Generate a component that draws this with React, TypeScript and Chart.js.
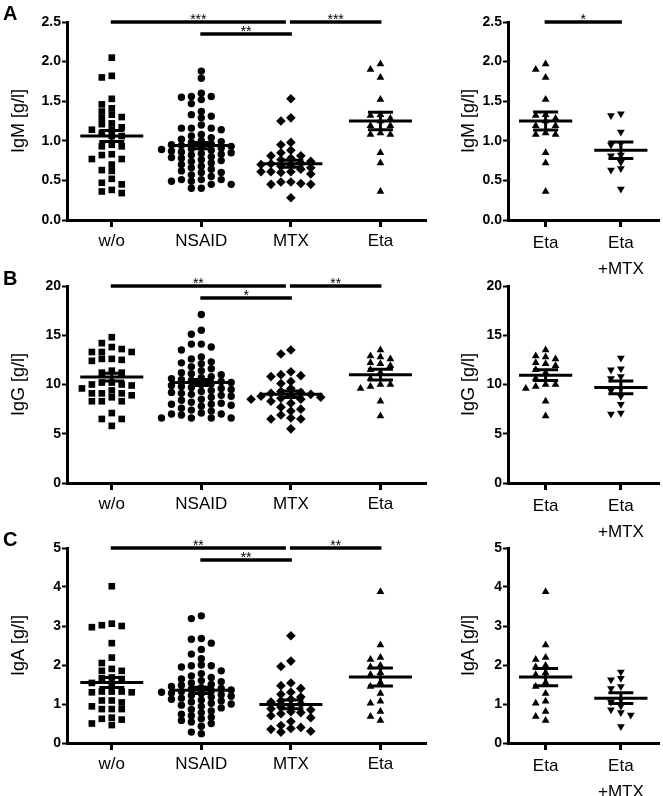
import React, { useEffect, useRef } from 'react';
import { Chart, registerables } from 'chart.js';

Chart.register(...registerables);

const FONT = '"Liberation Sans", Arial, Helvetica, sans-serif';

// ---------- categories ----------
const leftCategories = ['w/o', 'NSAID', 'MTX', 'Eta'];
const rightCategories = ['Eta', 'Eta\n+MTX'];

// ---------- IgM [g/l] ----------
const igmWo = [2.05, 1.82, 1.8, 1.53, 1.46, 1.41, 1.37, 1.33, 1.3, 1.29, 1.22, 1.21, 1.17, 1.14, 1.14, 1.09, 1.06, 1.06, 0.95, 0.93, 0.93, 0.83, 0.82, 0.77, 0.77, 0.7, 0.63, 0.62, 0.52, 0.47, 0.45, 0.38, 0.36, 0.34];
const igmNsaid = [1.88, 1.79, 1.6, 1.56, 1.56, 1.55, 1.52, 1.47, 1.37, 1.33, 1.31, 1.29, 1.2, 1.16, 1.16, 1.16, 1.14, 1.08, 1.06, 1.04, 1.02, 1.0, 0.99, 0.98, 0.96, 0.95, 0.94, 0.93, 0.92, 0.91, 0.9, 0.89, 0.88, 0.87, 0.86, 0.85, 0.84, 0.83, 0.82, 0.8, 0.79, 0.78, 0.76, 0.75, 0.74, 0.72, 0.7, 0.68, 0.66, 0.64, 0.62, 0.6, 0.6, 0.57, 0.55, 0.51, 0.51, 0.51, 0.49, 0.49, 0.45, 0.45, 0.4, 0.4];
const igmMtx = [1.53, 1.29, 1.25, 0.98, 0.95, 0.88, 0.85, 0.81, 0.81, 0.78, 0.76, 0.74, 0.72, 0.71, 0.7, 0.7, 0.68, 0.66, 0.64, 0.61, 0.61, 0.61, 0.6, 0.58, 0.48, 0.48, 0.46, 0.45, 0.45, 0.28];
const igmEta = [1.97, 1.9, 1.8, 1.52, 1.33, 1.32, 1.28, 1.25, 1.19, 1.19, 1.1, 1.08, 1.08, 0.85, 0.72, 0.36];
const igmEtaMtx = [1.34, 1.32, 1.11, 0.97, 0.95, 0.82, 0.81, 0.73, 0.65, 0.63, 0.39];
const igmMeans = [1.06, 0.94, 0.71, 1.25];
const igmSems = [0.07, 0.04, 0.045, 0.11];
const igmRightMeans = [1.25, 0.88];
const igmRightSems = [0.115, 0.105];
const igmTicks = [0, 0.5, 1.0, 1.5, 2.0, 2.5];

// ---------- IgG [g/l] ----------
const iggWo = [14.8, 14.2, 13.8, 13.6, 13.3, 13.3, 13.3, 12.6, 12.6, 12.5, 12.4, 11.4, 11.2, 11.2, 10.2, 10.2, 10.0, 10.0, 9.9, 9.6, 9.4, 9.1, 9.1, 9.1, 8.9, 8.7, 8.3, 8.3, 8.3, 7.1, 6.5, 6.5, 5.8];
const iggNsaid = [17.1, 15.5, 15.1, 14.1, 14.1, 13.8, 13.5, 12.8, 12.6, 12.3, 12.2, 12.1, 11.8, 11.6, 11.4, 11.2, 11.1, 11.0, 10.8, 10.7, 10.6, 10.5, 10.4, 10.3, 10.2, 10.1, 10.0, 9.9, 9.8, 9.7, 9.6, 9.5, 9.4, 9.3, 9.2, 9.1, 9.0, 8.9, 8.8, 8.7, 8.5, 8.4, 8.2, 8.1, 8.0, 8.0, 7.9, 7.8, 7.6, 7.4, 7.3, 7.1, 7.0, 7.0, 6.9, 6.6, 6.6, 6.6, 6.6];
const iggMtx = [13.5, 13.1, 11.3, 11.0, 10.9, 10.8, 10.3, 10.1, 9.6, 9.3, 9.2, 9.1, 9.0, 8.9, 8.8, 8.7, 8.6, 8.5, 8.5, 8.3, 8.1, 7.7, 7.5, 7.3, 6.9, 6.6, 6.5, 6.5, 5.5];
const iggEta = [13.5, 12.9, 12.8, 12.6, 12.2, 12.1, 11.9, 11.5, 11.2, 10.6, 10.0, 10.0, 9.8, 9.6, 8.3, 6.8];
const iggEtaMtx = [12.7, 11.6, 11.5, 10.8, 10.6, 9.6, 9.4, 8.8, 8.0, 7.1, 7.0];
const iggMeans = [10.75, 10.2, 9.0, 11.0];
const iggSems = [0.4, 0.3, 0.33, 0.55];
const iggRightMeans = [10.95, 9.7];
const iggRightSems = [0.55, 0.65];
const iggTicks = [0, 5, 10, 15, 20];

// ---------- IgA [g/l] ----------
const igaWo = [4.02, 3.06, 3.02, 3.0, 2.97, 2.56, 2.19, 2.05, 1.9, 1.85, 1.85, 1.68, 1.66, 1.64, 1.54, 1.5, 1.32, 1.32, 1.32, 1.3, 1.3, 1.09, 1.09, 1.04, 0.94, 0.87, 0.87, 0.87, 0.65, 0.62, 0.6, 0.5, 0.46];
const igaNsaid = [3.26, 3.19, 2.68, 2.66, 2.56, 2.4, 2.28, 2.16, 2.0, 1.98, 1.98, 1.95, 1.85, 1.78, 1.72, 1.68, 1.64, 1.6, 1.57, 1.54, 1.5, 1.48, 1.45, 1.42, 1.4, 1.38, 1.36, 1.34, 1.32, 1.3, 1.28, 1.26, 1.24, 1.22, 1.2, 1.18, 1.15, 1.12, 1.1, 1.08, 1.05, 1.02, 1.0, 0.97, 0.94, 0.9, 0.86, 0.82, 0.78, 0.74, 0.7, 0.66, 0.62, 0.58, 0.54, 0.5, 0.43, 0.28, 0.24];
const igaMtx = [2.75, 2.1, 1.96, 1.54, 1.47, 1.4, 1.3, 1.25, 1.18, 1.12, 1.08, 1.05, 1.0, 0.96, 0.92, 0.88, 0.85, 0.8, 0.78, 0.75, 0.7, 0.65, 0.55, 0.45, 0.4, 0.37, 0.35, 0.3, 0.28];
const igaEta = [3.88, 2.51, 2.19, 2.14, 1.99, 1.95, 1.8, 1.75, 1.55, 1.45, 1.27, 1.07, 1.02, 0.81, 0.68, 0.58];
const igaEtaMtx = [1.82, 1.66, 1.62, 1.45, 1.4, 1.12, 1.05, 0.95, 0.85, 0.78, 0.72, 0.42];
const igaMeans = [1.55, 1.35, 0.99, 1.69];
const igaSems = [0.13, 0.08, 0.11, 0.23];
const igaRightMeans = [1.69, 1.15];
const igaRightSems = [0.22, 0.14];
const igaTicks = [0, 1, 2, 3, 4, 5];

// ---------- significance bars: [from, to, label, level] ----------
type Sig = [number, number, string, number];
const sigIgmLeft: Sig[] = [[0, 2, '***', 0], [2, 3, '***', 0], [1, 2, '**', 1]];
const sigIgmRight: Sig[] = [[0, 1, '*', 0]];
const sigIggLeft: Sig[] = [[0, 2, '**', 0], [2, 3, '**', 0], [1, 2, '*', 1]];
const sigIgaLeft: Sig[] = [[0, 2, '**', 0], [2, 3, '**', 0], [1, 2, '**', 1]];

// ---------- marker shapes ----------
type Shape = { style: string; r: number; rot: number };
const SQUARE: Shape = { style: 'rect', r: 4.7, rot: 0 };
const CIRCLE: Shape = { style: 'circle', r: 3.7, rot: 0 };
const DIAMOND: Shape = { style: 'rectRot', r: 4.8, rot: 0 };
const TRI_UP: Shape = { style: 'triangle', r: 4.5, rot: 0 };
const TRI_DOWN: Shape = { style: 'triangle', r: 4.5, rot: 180 };
const leftShapes = [SQUARE, CIRCLE, DIAMOND, TRI_UP];
const rightShapes = [TRI_UP, TRI_DOWN];

// beeswarm layout (pixel offsets), computed from values
function swarm(values: number[], pxPerY: number, step: number, minD: number): number[] {
  const order = values.map((v, i) => ({ v, i })).sort((a, b) => b.v - a.v);
  const placed: { dx: number; py: number }[] = [];
  const out: number[] = new Array(values.length).fill(0);
  for (const { v, i } of order) {
    const py = v * pxPerY;
    let dx = 0;
    for (let n = 0; n < 400; n++) {
      const cand = n === 0 ? 0 : (n % 2 === 1 ? -1 : 1) * Math.ceil(n / 2) * step;
      const hit = placed.some((p) => Math.abs(p.dx - cand) < minD && Math.abs(p.py - py) < minD);
      if (!hit) {
        dx = cand;
        break;
      }
    }
    placed.push({ dx, py });
    out[i] = dx;
  }
  return out;
}

type PanelProps = {
  left: number;
  top: number;
  width: number;
  height: number;
  extra: number;
  chartTop: number;
  chartBottom: number;
  axisWidth: number;
  padRight: number;
  categories: string[];
  groups: number[][];
  shapes: Shape[];
  means: number[];
  sems: number[];
  yTicks: number[];
  decimals: number;
  yTitle: string;
  titlePad: number;
  xLineHeight: number;
  sig: Sig[];
};

function Panel(p: PanelProps) {
  const ref = useRef<HTMLCanvasElement>(null);
  const canvasH = p.height + p.extra;
  useEffect(() => {
    const canvas = ref.current;
    if (!canvas) return;
    const n = p.categories.length;
    const yMax = p.yTicks[p.yTicks.length - 1];
    const plotW = p.width - p.axisWidth - p.padRight;
    const plotH = p.chartBottom - p.chartTop;
    const pxX = plotW / n;
    const pxY = plotH / yMax;

    const datasets = p.groups.map((vals, ci) => {
      const offs = swarm(vals, pxY, 5, 6);
      const sh = p.shapes[ci];
      return {
        label: p.categories[ci],
        data: vals.map((v, k) => ({ x: ci + offs[k] / pxX, y: v })),
        pointStyle: sh.style,
        pointRadius: sh.r,
        pointHoverRadius: sh.r,
        rotation: sh.rot,
        backgroundColor: '#000',
        borderColor: '#000',
        borderWidth: 0,
        showLine: false,
        clip: false,
      };
    });

    const overlay = {
      id: 'overlay',
      afterDatasetsDraw(chart: any) {
        const { ctx, scales } = chart;
        const xs = scales.x;
        const ys = scales.y;
        ctx.save();
        ctx.strokeStyle = '#000';
        ctx.fillStyle = '#000';
        ctx.lineCap = 'butt';
        // mean +/- SEM
        const meanHalf = 0.35 * pxX;
        const semHalf = 12.5;
        p.means.forEach((m, ci) => {
          const cx = xs.getPixelForValue(ci);
          const ym = ys.getPixelForValue(m);
          const yh = ys.getPixelForValue(m + p.sems[ci]);
          const yl = ys.getPixelForValue(m - p.sems[ci]);
          ctx.lineWidth = 3;
          ctx.beginPath();
          ctx.moveTo(cx - meanHalf, ym);
          ctx.lineTo(cx + meanHalf, ym);
          ctx.moveTo(cx - semHalf, yh);
          ctx.lineTo(cx + semHalf, yh);
          ctx.moveTo(cx - semHalf, yl);
          ctx.lineTo(cx + semHalf, yl);
          ctx.moveTo(cx, yh);
          ctx.lineTo(cx, yl);
          ctx.stroke();
        });
        // significance bars
        ctx.font = '14px ' + FONT;
        ctx.textAlign = 'center';
        ctx.textBaseline = 'alphabetic';
        p.sig.forEach(([from, to, label, level]) => {
          const y = ys.top + level * 12;
          const x1 = xs.getPixelForValue(from) - 1;
          let x2 = xs.getPixelForValue(to) + 1;
          const continues = p.sig.some((s) => s[3] === level && s[0] === to);
          if (continues) x2 -= 6;
          ctx.lineWidth = 3.5;
          ctx.beginPath();
          ctx.moveTo(x1, y);
          ctx.lineTo(x2, y);
          ctx.stroke();
          ctx.fillText(label, (x1 + x2) / 2, y + 2);
        });
        ctx.restore();
      },
    };

    const chart = new Chart(canvas, {
      type: 'scatter',
      data: { datasets: datasets as any },
      options: {
        responsive: false,
        animation: false,
        events: [],
        layout: { padding: { top: p.chartTop, right: p.padRight, left: 0, bottom: 0 } },
        plugins: { legend: { display: false }, tooltip: { enabled: false } },
        scales: {
          x: {
            type: 'linear',
            min: -0.5,
            max: n - 0.5,
            afterBuildTicks: (s: any) => {
              s.ticks = p.categories.map((_, i) => ({ value: i }));
            },
            afterFit: (s: any) => {
              s.height = canvasH - p.chartBottom;
            },
            grid: {
              drawOnChartArea: false,
              drawTicks: true,
              tickLength: 7,
              tickWidth: 3,
              tickColor: '#000',
              color: '#000',
              lineWidth: 3,
            },
            border: { display: true, color: '#000', width: 3 },
            ticks: {
              color: '#000',
              font: { family: FONT, size: 17, lineHeight: p.xLineHeight },
              padding: 4,
              autoSkip: false,
              maxRotation: 0,
              callback: (v: any) => {
                const lab = p.categories[Math.round(Number(v))];
                return lab && lab.includes('\n') ? lab.split('\n') : lab;
              },
            },
          },
          y: {
            type: 'linear',
            min: 0,
            max: yMax,
            afterBuildTicks: (s: any) => {
              s.ticks = p.yTicks.map((v) => ({ value: v }));
            },
            afterFit: (s: any) => {
              s.width = p.axisWidth;
            },
            ticks: {
              color: '#000',
              font: { family: FONT, size: 14, weight: 'bold' },
              padding: 1,
              callback: (v: any) => Number(v).toFixed(p.decimals),
            },
            grid: {
              drawOnChartArea: false,
              drawTicks: true,
              tickLength: 5,
              tickWidth: 2,
              tickColor: '#000',
              color: '#000',
            },
            border: { display: true, color: '#000', width: 3 },
            title: {
              display: true,
              text: p.yTitle,
              color: '#000',
              font: { family: FONT, size: 18, lineHeight: 1.2 },
              padding: { top: p.titlePad, bottom: 0 },
            },
          },
        },
      },
      plugins: [overlay],
    } as any);
    return () => chart.destroy();
  }, []);

  return (
    <canvas
      ref={ref}
      width={p.width}
      height={canvasH}
      style={{ position: 'absolute', left: p.left, top: p.top, width: p.width, height: canvasH, display: 'block' }}
    />
  );
}

const rows = [
  { top: 0, height: 265, chartTop: 22, chartBottom: 220 },
  { top: 265, height: 265, chartTop: 21, chartBottom: 218 },
  { top: 530, height: 266, chartTop: 18, chartBottom: 213 },
];

const letterStyle = (top: number): React.CSSProperties => ({
  position: 'absolute',
  left: 3,
  top,
  fontFamily: FONT,
  fontWeight: 'bold',
  fontSize: 20,
  lineHeight: '20px',
  color: '#000',
});

export default function App() {
  const L = { left: 0, width: 430, axisWidth: 67, padRight: 3, titlePad: 8, xLineHeight: 1.2, extra: 0 };
  const R = { left: 430, width: 233, axisWidth: 78, padRight: 3, titlePad: 28, xLineHeight: 1.5 };
  return (
    <div style={{ position: 'absolute', left: 0, top: 0, width: 663, height: 796, background: '#fff', overflow: 'hidden' }}>
      <Panel {...L} {...rows[0]} categories={leftCategories} groups={[igmWo, igmNsaid, igmMtx, igmEta]} shapes={leftShapes}
        means={igmMeans} sems={igmSems} yTicks={igmTicks} decimals={1} yTitle="IgM [g/l]" sig={sigIgmLeft} />
      <Panel {...R} {...rows[0]} extra={25} categories={rightCategories} groups={[igmEta, igmEtaMtx]} shapes={rightShapes}
        means={igmRightMeans} sems={igmRightSems} yTicks={igmTicks} decimals={1} yTitle="IgM [g/l]" sig={sigIgmRight} />
      <Panel {...L} {...rows[1]} categories={leftCategories} groups={[iggWo, iggNsaid, iggMtx, iggEta]} shapes={leftShapes}
        means={iggMeans} sems={iggSems} yTicks={iggTicks} decimals={0} yTitle="IgG [g/l]" sig={sigIggLeft} />
      <Panel {...R} {...rows[1]} extra={25} categories={rightCategories} groups={[iggEta, iggEtaMtx]} shapes={rightShapes}
        means={iggRightMeans} sems={iggRightSems} yTicks={iggTicks} decimals={0} yTitle="IgG [g/l]" sig={[]} />
      <Panel {...L} {...rows[2]} categories={leftCategories} groups={[igaWo, igaNsaid, igaMtx, igaEta]} shapes={leftShapes}
        means={igaMeans} sems={igaSems} yTicks={igaTicks} decimals={0} yTitle="IgA [g/l]" sig={sigIgaLeft} />
      <Panel {...R} {...rows[2]} extra={0} categories={rightCategories} groups={[igaEta, igaEtaMtx]} shapes={rightShapes}
        means={igaRightMeans} sems={igaRightSems} yTicks={igaTicks} decimals={0} yTitle="IgA [g/l]" sig={[]} />
      <div style={letterStyle(3)}>A</div>
      <div style={letterStyle(268)}>B</div>
      <div style={letterStyle(529)}>C</div>
    </div>
  );
}
